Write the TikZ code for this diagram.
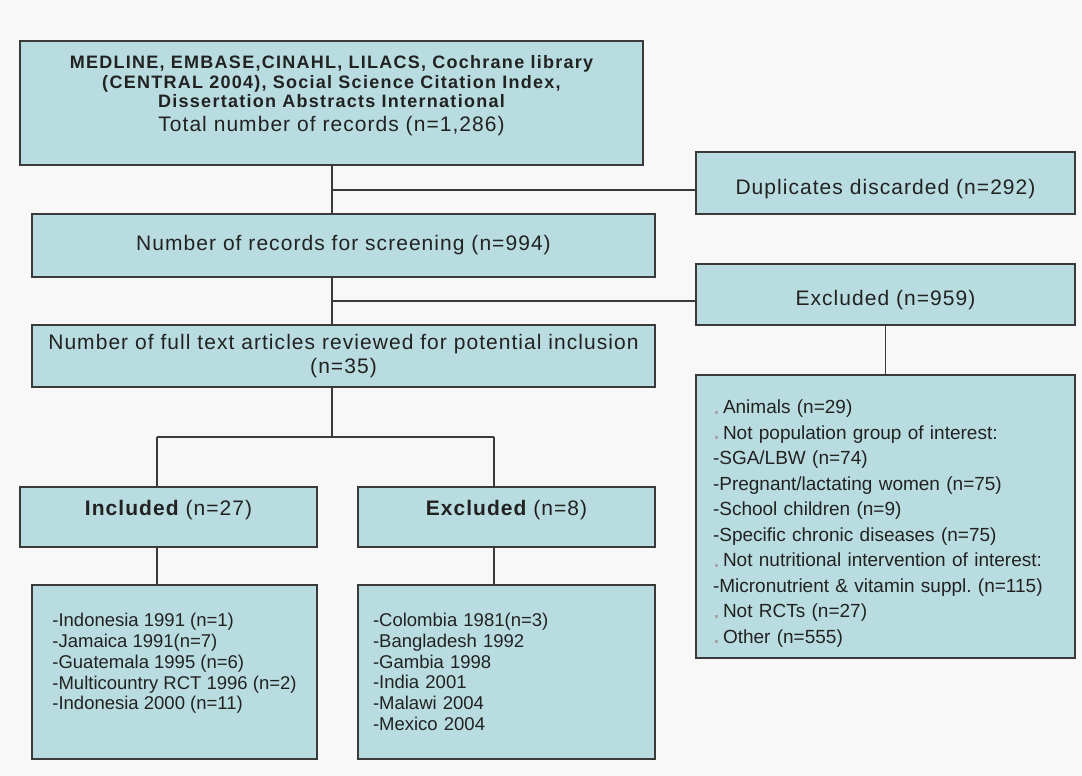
\documentclass[tikz,border=0pt]{standalone}
\usepackage{fontspec}
\setmainfont{Liberation Sans}
\newfontfamily\spacedfont[LetterSpace=5]{Liberation Sans}
\newfontfamily\widefont[LetterSpace=7]{Liberation Sans}
\definecolor{boxfill}{HTML}{B8DCDF}
\definecolor{boxline}{HTML}{3A3A3A}
\definecolor{bgc}{HTML}{F8F8F8}
\definecolor{txtc}{HTML}{222222}
\definecolor{bulletc}{HTML}{A8A8A8}
\newcommand\blt{\makebox[10pt][l]{\hspace{1.5pt}\textcolor{bulletc}{\rule{3pt}{3pt}}}}
\frenchspacing
\begin{document}
\begin{tikzpicture}[x=1pt,y=-1pt,
  box/.style={draw=boxline, line width=1.9pt, fill=boxfill, inner sep=0pt, text=txtc},
  conn/.style={draw=boxline, line width=1.9pt},
  title/.style={font=\spacedfont\fontsize{21}{24}\selectfont},
  listtxt/.style={font=\fontsize{18.5}{20.7}\selectfont, align=left},
  rlisttxt/.style={font=\fontsize{19}{25.5}\selectfont, align=left}]
\useasboundingbox (0,0) rectangle (1082,776);
\fill[bgc] (0,0) rectangle (1082,776);

% boxes
\node[box, title, minimum width=623pt, minimum height=124pt] (top) at (331.5,103)
 {{\fontsize{18}{19.5}\selectfont\begin{tabular}{@{}c@{}}
 \widefont\bfseries MEDLINE, EMBASE,CINAHL, LILACS, Cochrane library\\
 \widefont\bfseries (CENTRAL 2004), Social Science Citation Index,\\
 \widefont\bfseries Dissertation Abstracts International\\[3pt]
 \spacedfont\fontsize{21}{24}\selectfont Total number of records (n=1,286)\\[13pt]
 \end{tabular}}};

\node[box, title, minimum width=379pt, minimum height=62pt, text height=24pt, text depth=2pt]
 (dup) at (885.5,183) {Duplicates discarded (n=292)};

\node[box, title, minimum width=623pt, minimum height=63pt]
 (screen) at (343.5,245.5) {Number of records for screening (n=994)};

\node[box, title, minimum width=379pt, minimum height=61pt, text height=24pt, text depth=2pt]
 (excl) at (885.5,294.5) {Excluded (n=959)};

\node[box, title, align=center, minimum width=623pt, minimum height=62pt]
 (full) at (343.5,356) {Number of full text articles reviewed for potential inclusion\\(n=35)};

\node[box, title, minimum width=379pt, minimum height=283pt, rlisttxt, text width=345pt]
 (exlist) at (885.5,516.5)
 {\rule{0pt}{28pt}\blt Animals (n=29)\\\blt Not population group of interest:\\-SGA/LBW (n=74)\\-Pregnant/lactating women (n=75)\\-School children (n=9)\\-Specific chronic diseases (n=75)\\\blt Not nutritional intervention of interest:\\-Micronutrient \& vitamin suppl.\ (n=115)\\\blt Not RCTs (n=27)\\\blt Other (n=555)};

\node[box, title, minimum width=297pt, minimum height=60pt, text height=12pt, text depth=16pt]
 (inc) at (168.5,517) {{\bfseries Included} (n=27)};

\node[box, title, minimum width=297pt, minimum height=60pt, text height=12pt, text depth=16pt]
 (exc) at (506.5,517) {{\bfseries Excluded} (n=8)};

\node[box, listtxt, minimum width=285pt, minimum height=174pt]
 (inclist) at (174.5,672)
 {-Indonesia 1991 (n=1)\\-Jamaica 1991(n=7)\\-Guatemala 1995 (n=6)\\-Multicountry RCT 1996 (n=2)\\-Indonesia 2000 (n=11)\\\mbox{}};

\node[box, listtxt, minimum width=297pt, minimum height=174pt, text width=267pt]
 (exclist) at (506.5,672)
 {-Colombia 1981(n=3)\\-Bangladesh 1992\\-Gambia 1998\\-India 2001\\-Malawi 2004\\-Mexico 2004};

% connectors
\coordinate (t1) at (332,190);
\coordinate (t2) at (332,301);
\coordinate (t3) at (332,437);
\coordinate (bl) at (157,437);
\coordinate (br) at (494,437);
\draw[conn] (top.south -| t1) -- (screen.north -| t1);
\draw[conn] (t1) -- (t1 -| dup.west);
\draw[conn] (screen.south -| t2) -- (full.north -| t2);
\draw[conn] (t2) -- (t2 -| excl.west);
\draw[conn] (full.south -| t3) -- (t3);
\draw[conn] (bl) -- (br);
\draw[conn] (bl) -- (inc.north -| bl);
\draw[conn] (br) -- (exc.north -| br);
\draw[conn] (inc.south -| bl) -- (inclist.north -| bl);
\draw[conn] (exc.south -| br) -- (exclist.north -| br);
\draw[conn] (excl.south) -- (exlist.north);
\end{tikzpicture}
\end{document}
